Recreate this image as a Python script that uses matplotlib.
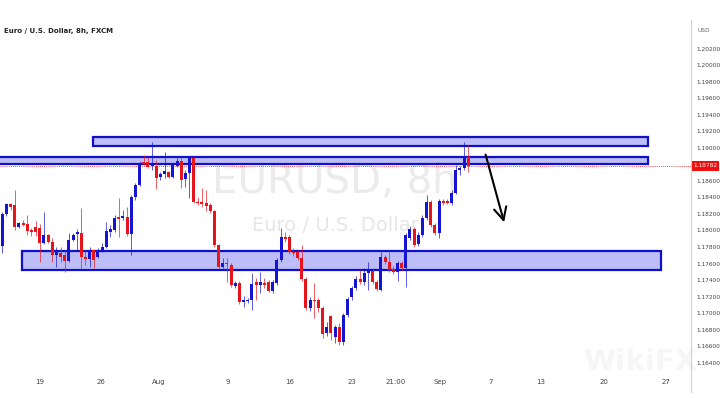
import matplotlib
matplotlib.use("Agg")
import matplotlib.pyplot as plt
from matplotlib.patches import Rectangle
from matplotlib.lines import Line2D
import matplotlib.transforms as mtransforms

# EURUSD 8h candles
opens = [1.17812, 1.18200, 1.18322, 1.18309, 1.18043, 1.18091, 1.18079, 1.18006, 1.18043, 1.18030,
         1.17849, 1.17946, 1.17861, 1.17703, 1.17727, 1.17703, 1.17630, 1.17885, 1.17958, 1.17970,
         1.17679, 1.17655, 1.17764, 1.17679, 1.17764, 1.17800, 1.17982, 1.18006, 1.18164, 1.18152,
         1.18164, 1.17958, 1.18406, 1.18552, 1.18830, 1.18830, 1.18782, 1.18782, 1.18649, 1.18685,
         1.18709, 1.18649, 1.18782, 1.18843, 1.18624, 1.18697, 1.18879, 1.18346, 1.18346, 1.18334,
         1.18309, 1.18237, 1.17824, 1.17558, 1.17606, 1.17582, 1.17327, 1.17364, 1.17133, 1.17145,
         1.17158, 1.17376, 1.17339, 1.17364, 1.17376, 1.17267, 1.17364, 1.17642, 1.17921, 1.17921,
         1.17739, 1.17739, 1.17667, 1.17412, 1.17061, 1.17158, 1.17158, 1.17061, 1.16758, 1.16964,
         1.16709, 1.16830, 1.16648, 1.16976, 1.17194, 1.17303, 1.17412, 1.17376, 1.17485, 1.17509,
         1.17376, 1.17279, 1.17679, 1.17618, 1.17533, 1.17497, 1.17606, 1.17545, 1.17909, 1.18018,
         1.17836, 1.17946, 1.18152, 1.18346, 1.18067, 1.17970, 1.18358, 1.18358, 1.18334, 1.18455,
         1.18733, 1.18758, 1.18891]
highs = [1.18224, 1.18334, 1.18334, 1.18491, 1.18103, 1.18127, 1.18188, 1.18030, 1.18115, 1.18079,
         1.18224, 1.17958, 1.17909, 1.17800, 1.17800, 1.17764, 1.17970, 1.17970, 1.18018, 1.18273,
         1.17764, 1.17800, 1.17776, 1.17788, 1.17849, 1.18103, 1.18067, 1.18188, 1.18394, 1.18249,
         1.18285, 1.18430, 1.18576, 1.18843, 1.18915, 1.18891, 1.19073, 1.18855, 1.18709, 1.18952,
         1.18721, 1.18818, 1.18879, 1.18879, 1.18733, 1.18891, 1.18891, 1.18406, 1.18515, 1.18491,
         1.18334, 1.18249, 1.17836, 1.17667, 1.17667, 1.17606, 1.17388, 1.17388, 1.17206, 1.17182,
         1.17485, 1.17424, 1.17497, 1.17424, 1.17400, 1.17400, 1.17667, 1.18030, 1.17982, 1.17946,
         1.17788, 1.17764, 1.17824, 1.17436, 1.17194, 1.17364, 1.17182, 1.17085, 1.16891, 1.16976,
         1.16854, 1.16879, 1.17000, 1.17194, 1.17327, 1.17448, 1.17521, 1.17545, 1.17618, 1.17545,
         1.17400, 1.17739, 1.17703, 1.17764, 1.17570, 1.17630, 1.17630, 1.17970, 1.18055, 1.18043,
         1.17982, 1.18188, 1.18430, 1.18370, 1.18091, 1.18382, 1.18382, 1.18382, 1.18491, 1.18794,
         1.18782, 1.19073, 1.19037]
lows = [1.17727, 1.18176, 1.18249, 1.18006, 1.18030, 1.18055, 1.17946, 1.17933, 1.17933, 1.17618,
        1.17836, 1.17849, 1.17618, 1.17558, 1.17618, 1.17497, 1.17618, 1.17873, 1.17764, 1.17545,
        1.17582, 1.17558, 1.17545, 1.17667, 1.17739, 1.17788, 1.17921, 1.17982, 1.17921, 1.18127,
        1.17933, 1.17703, 1.18370, 1.18540, 1.18794, 1.18758, 1.18733, 1.18503, 1.18612, 1.18636,
        1.18636, 1.18636, 1.18770, 1.18515, 1.18527, 1.18394, 1.18334, 1.18309, 1.18285, 1.18237,
        1.18212, 1.17800, 1.17533, 1.17545, 1.17376, 1.17315, 1.17303, 1.17109, 1.17073, 1.17121,
        1.17036, 1.17158, 1.17242, 1.17303, 1.17254, 1.17242, 1.17339, 1.17618, 1.17861, 1.17715,
        1.17691, 1.17642, 1.17388, 1.17036, 1.17024, 1.16939, 1.17012, 1.16697, 1.16721, 1.16673,
        1.16636, 1.16612, 1.16612, 1.16951, 1.17158, 1.17279, 1.17351, 1.17339, 1.17279, 1.17351,
        1.17267, 1.17267, 1.17594, 1.17497, 1.17473, 1.17388, 1.17521, 1.17315, 1.17885, 1.17800,
        1.17812, 1.17921, 1.18127, 1.18043, 1.17946, 1.17909, 1.18309, 1.18322, 1.18309, 1.18443,
        1.18673, 1.18733, 1.18709]
closes = [1.18200, 1.18322, 1.18285, 1.18043, 1.18091, 1.18067, 1.17994, 1.17982, 1.17982, 1.17849,
          1.17946, 1.17861, 1.17703, 1.17739, 1.17679, 1.17630, 1.17885, 1.17946, 1.17982, 1.17679,
          1.17655, 1.17764, 1.17642, 1.17764, 1.17800, 1.17994, 1.18018, 1.18152, 1.18140, 1.18176,
          1.17958, 1.18406, 1.18552, 1.18818, 1.18806, 1.18770, 1.18806, 1.18636, 1.18685, 1.18721,
          1.18649, 1.18794, 1.18843, 1.18612, 1.18697, 1.18879, 1.18346, 1.18334, 1.18322, 1.18297,
          1.18237, 1.17824, 1.17558, 1.17606, 1.17594, 1.17339, 1.17364, 1.17133, 1.17158, 1.17158,
          1.17351, 1.17339, 1.17376, 1.17339, 1.17267, 1.17376, 1.17642, 1.17921, 1.17897, 1.17739,
          1.17727, 1.17667, 1.17412, 1.17061, 1.17158, 1.17145, 1.17061, 1.16745, 1.16830, 1.16758,
          1.16830, 1.16648, 1.16976, 1.17170, 1.17303, 1.17412, 1.17376, 1.17485, 1.17509, 1.17376,
          1.17291, 1.17679, 1.17618, 1.17521, 1.17497, 1.17606, 1.17545, 1.17946, 1.18018, 1.17824,
          1.17946, 1.18152, 1.18346, 1.18067, 1.17970, 1.18358, 1.18334, 1.18334, 1.18455, 1.18733,
          1.18758, 1.18891, 1.18782]

date_ticks = [9.1, 23.7, 37.7, 54.3, 69.2, 84.1, 94.6, 105.2, 117.5, 129.5, 144.6, 159.5]
date_labels = ["19", "26", "Aug", "9", "16", "23", "21:00", "Sep", "7", "13", "20", "27"]
# 1.18800 is hidden behind the last-price tag, as on the original
price_ticks = [1.164, 1.166, 1.168, 1.170, 1.172, 1.174, 1.176, 1.178, 1.180, 1.182,
               1.184, 1.186, 1.190, 1.192, 1.194, 1.196, 1.198, 1.200, 1.202]
last_price = 1.18782

# supply / demand zones: (x start, x end, low, high)
zones = [(21.8, 155.2, 1.19030, 1.19130),
         (-1.0, 155.2, 1.18800, 1.18885),
         (4.7, 158.3, 1.17527, 1.17746)]

UP = "#1414d2"
DOWN = "#e8141c"

fig = plt.figure(figsize=(7.2, 3.98), dpi=100)
ax = fig.add_axes([0.0, 1 - 372 / 398, 691 / 720, 350 / 398])
ax.set_xlim(-0.55, 165.55)
ax.set_ylim(1.16285, 1.20527)

# watermark
ax.text(80.0, 1.18582, "EURUSD, 8h", fontsize=29, color="#ebebeb",
        ha="center", va="center", zorder=0)
ax.text(80.0, 1.18055, "Euro / U.S. Dollar", fontsize=14, color="#e6e6e6",
        ha="center", va="center", zorder=0)
fig.text(640 / 720, 1 - 362 / 398, "WikiFX", fontsize=21, color="#f6f6f6",
         ha="center", va="center", fontweight="bold", zorder=0)

for x0, x1, lo, hi in zones:
    ax.add_patch(Rectangle((x0, lo), x1 - x0, hi - lo, facecolor=(0.0, 0.0, 0.9, 0.26),
                           edgecolor="#1010c8", linewidth=1.6, zorder=1))

for i in range(len(opens)):
    o, h, l, c = opens[i], highs[i], lows[i], closes[i]
    col = UP if c >= o else DOWN
    ax.vlines(i, l, h, color=col, linewidth=0.6, alpha=0.8, zorder=2)
    body = max(abs(c - o), 0.00004)
    ax.add_patch(Rectangle((i - 0.36, min(o, c)), 0.72, body, facecolor=col,
                           edgecolor="none", zorder=3))

ax.axhline(last_price, color=DOWN, linestyle=(0, (1, 1.5)), linewidth=0.6, zorder=1)

ax.annotate("", xy=(120.8, 1.18067), xytext=(116.0, 1.18952),
            arrowprops=dict(arrowstyle="->,head_length=0.9,head_width=0.45",
                            color="black", lw=1.5), zorder=4)

for s in ["top", "left", "bottom", "right"]:
    ax.spines[s].set_visible(False)
fig.add_artist(Line2D([691 / 720, 691 / 720], [1 - 392 / 398, 1 - 20 / 398],
                      color="#d0d0d0", linewidth=0.8))

ax.yaxis.tick_right()
ax.set_yticks(price_ticks)
ax.set_yticklabels(["%.5f" % p for p in price_ticks])
ax.tick_params(axis="y", length=0, pad=4, labelsize=4.2, labelcolor="#444444")
ax.set_xticks(date_ticks)
ax.set_xticklabels(date_labels)
ax.tick_params(axis="x", length=0, pad=5, labelsize=5, labelcolor="#444444")

blend = mtransforms.blended_transform_factory(ax.transAxes, ax.transData)
ax.text(1.003, last_price, "1.18782", transform=blend, fontsize=4.2, color="white",
        ha="left", va="center", zorder=5,
        bbox=dict(boxstyle="square,pad=0.35", facecolor="#f01010", edgecolor="none"))

fig.text(4 / 720, 1 - 31 / 398, "Euro / U.S. Dollar, 8h, FXCM", fontsize=5,
         color="#222222", ha="left", va="center", fontweight="bold")
fig.text(698 / 720, 1 - 31 / 398, "USD", fontsize=4.2, color="#666666",
         ha="left", va="center")

fig.savefig("out.png", dpi=100)
